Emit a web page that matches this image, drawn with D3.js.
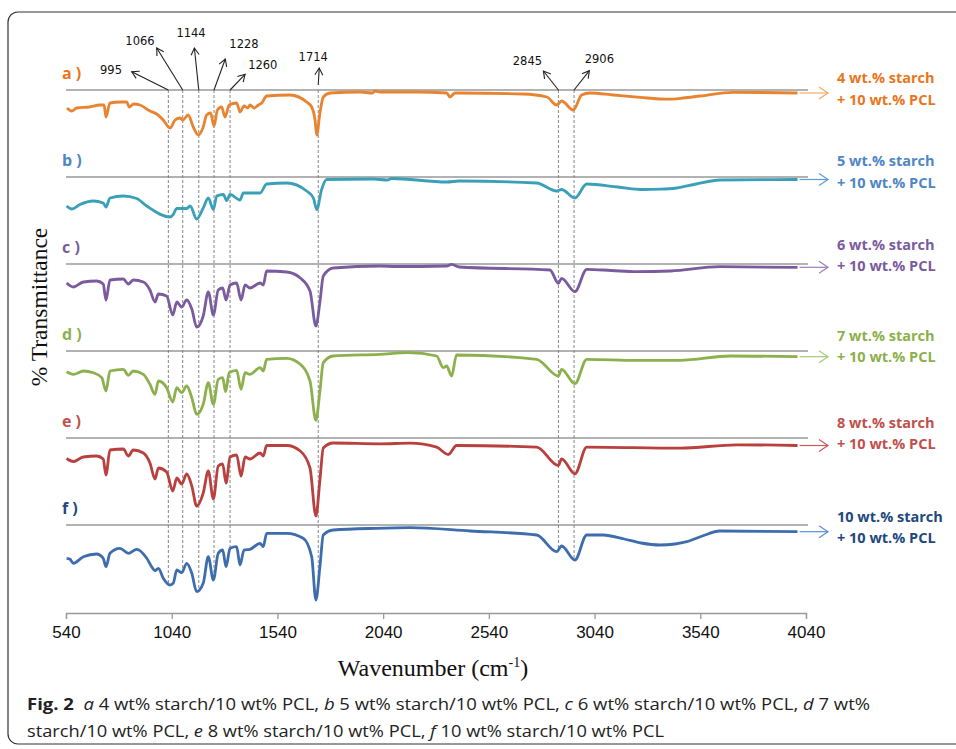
<!DOCTYPE html>
<html>
<head>
<meta charset="utf-8">
<script src="https://cdn.jsdelivr.net/npm/d3@7"></script>
<style>
  body { margin: 0; background: #fff; }
  svg { display: block; }
</style>
</head>
<body>
<script>
// wavenumber ticks on the x axis
const wavenumberTicks = [540, 1040, 1540, 2040, 2540, 3040, 3540, 4040];

// series ids, right-hand labels
const seriesIds = ['a', 'b', 'c', 'd', 'e', 'f'];
const starchLabels = ['4 wt.% starch', '5 wt.% starch', '6 wt.% starch', '7 wt.% starch', '8 wt.% starch', '10 wt.% starch'];
const pclLabel = '+ 10 wt.% PCL';

// marked peaks: label text and where the dashed line sits on the axis
const peakLabels = ['995', '1066', '1144', '1228', '1260', '1714', '2845', '2906'];
const peakMarks = [1024, 1092, 1168, 1240, 1316, 1733, 2869, 2943];

// spectra, [wavenumber, transmittance] (100 = reference line of each trace)
const specA = [[545, 82], [567, 79], [591, 82], [650, 83], [700, 85], [720, 85], [729, 73], [748, 87], [800, 88], [827, 88], [839, 83], [860, 86], [890, 85], [937, 79], [969, 76], [1000, 70], [1032, 62], [1056, 70], [1079, 72], [1092, 70], [1118, 75], [1142, 63], [1166, 55], [1189, 63], [1205, 75], [1224, 77], [1240, 64], [1256, 80], [1276, 83], [1292, 73], [1312, 85], [1347, 87], [1363, 78], [1382, 84], [1400, 82], [1410, 85], [1430, 82], [1450, 85], [1466, 87], [1489, 94], [1599, 95], [1678, 88], [1702, 83], [1718, 70], [1726, 55], [1741, 77], [1757, 93], [1789, 97], [1931, 98], [1990, 97], [2000, 99], [2025, 98], [2200, 98], [2341, 97], [2356, 93], [2380, 97], [2700, 96], [2814, 93], [2861, 85], [2884, 89], [2939, 80], [2979, 95], [3018, 97], [3130, 95], [3255, 92.7], [3381, 90.8], [3460, 92], [3539, 94], [3695, 97.7], [4000, 97]];

const specB = [[543, 71], [567, 68], [606, 72.5], [669, 76], [716, 74], [729, 70], [748, 79], [811, 81], [874, 78.5], [922, 71], [1032, 60], [1047, 62.5], [1064, 68.5], [1111, 68.5], [1127, 71], [1158, 58], [1189, 69], [1213, 79], [1237, 67.5], [1253, 81], [1284, 82.5], [1300, 76.5], [1316, 82.5], [1363, 77], [1379, 84], [1458, 84], [1489, 93], [1584, 94], [1678, 86], [1710, 79], [1726, 67.5], [1749, 87.5], [1773, 97.5], [1993, 98], [2060, 97], [2080, 98.5], [2341, 95], [2400, 96], [2766, 94], [2861, 86], [2884, 87.5], [2947, 79], [3003, 93], [3150, 90], [3270, 87.5], [3350, 87.8], [3428, 89], [3520, 93], [3633, 97], [4000, 97.5]];

const specC = [[543, 81], [575, 77], [622, 82], [685, 83], [716, 80], [729, 64], [748, 84], [811, 85], [835, 80], [858, 84], [906, 82], [937, 74], [961, 62], [977, 70], [1016, 68], [1045, 49], [1064, 62], [1087, 57], [1111, 64], [1135, 55], [1158, 37], [1189, 48], [1213, 72], [1237, 49], [1260, 74], [1281, 76], [1297, 64], [1316, 79], [1347, 81], [1368, 64], [1387, 79], [1410, 76], [1458, 81], [1473, 79], [1489, 93], [1584, 92], [1648, 86], [1694, 73], [1722, 38], [1741, 62], [1757, 88], [1804, 96], [2025, 98], [2100, 97.5], [2340, 98], [2364, 99.7], [2400, 97], [2829, 94], [2869, 80.7], [2884, 85.7], [2947, 72.3], [3003, 94.7], [3120, 93.5], [3239, 92.3], [3400, 93], [3633, 97.3], [4000, 96.7]];

const specD = [[543, 79.3], [575, 76.7], [622, 80], [669, 78.3], [709, 73.3], [729, 60], [748, 80], [811, 81.7], [835, 75.7], [858, 80], [906, 76.7], [937, 66.7], [961, 56.7], [977, 70], [1016, 63.3], [1045, 49], [1064, 63.3], [1087, 58.3], [1111, 65], [1135, 53.3], [1158, 36.7], [1189, 46.7], [1213, 68.3], [1237, 46.7], [1260, 71.7], [1281, 73.3], [1295, 59.3], [1312, 78.3], [1347, 80.7], [1368, 61.7], [1387, 78.3], [1410, 76.7], [1458, 83.3], [1473, 80], [1489, 91.7], [1584, 92.7], [1648, 86.7], [1694, 70], [1722, 30.7], [1741, 60], [1757, 88.3], [1804, 95], [2025, 96.7], [2159, 98.3], [2293, 95], [2324, 83.3], [2340, 85], [2364, 75], [2387, 96], [2766, 91.7], [2869, 75], [2884, 81.7], [2947, 67.3], [3003, 91.7], [3239, 90.7], [3444, 90.7], [3681, 95], [4000, 94.3]];

const specE = [[543, 79.5], [575, 76.5], [622, 81], [685, 82], [716, 79], [729, 63], [748, 88], [811, 89], [835, 82], [858, 88], [906, 85], [937, 75], [961, 59], [977, 70], [1016, 66], [1045, 47], [1064, 60], [1087, 54], [1111, 64], [1135, 52], [1158, 32], [1189, 45], [1213, 67], [1237, 39], [1260, 72], [1281, 74], [1297, 55], [1316, 81], [1347, 83], [1368, 62], [1387, 81], [1410, 79], [1458, 85], [1473, 82], [1489, 92.5], [1584, 92.5], [1648, 87], [1694, 70], [1722, 22], [1741, 58], [1757, 90], [1804, 95], [2025, 94.2], [2167, 94.8], [2293, 90.8], [2348, 83.5], [2387, 92.5], [2766, 90.8], [2869, 72.5], [2884, 79.2], [2947, 64.2], [3003, 90.8], [3444, 89.8], [3712, 93.2], [4000, 92.5]];

const specF = [[543, 66.7], [559, 65.7], [575, 61.7], [622, 68.3], [685, 71], [716, 66.7], [729, 58.3], [748, 71.7], [795, 76.7], [835, 71.7], [874, 75.7], [922, 66.7], [945, 58.3], [961, 54.3], [977, 56.7], [1000, 46.7], [1032, 40], [1047, 41.7], [1064, 55], [1087, 52.3], [1111, 61.7], [1135, 51.7], [1158, 33.3], [1189, 41.7], [1213, 68.3], [1237, 45], [1260, 71.7], [1281, 75], [1297, 58.3], [1316, 76.7], [1347, 78.3], [1363, 60], [1382, 75], [1410, 75.7], [1458, 81.7], [1473, 78.3], [1489, 91.7], [1584, 91.7], [1662, 86.7], [1702, 68.3], [1722, 25], [1741, 58.3], [1757, 90], [1804, 95], [2009, 96.7], [2167, 97.3], [2451, 94], [2766, 90], [2861, 73.3], [2884, 79], [2947, 65], [3003, 90], [3081, 90], [3180, 86], [3260, 82], [3349, 80], [3420, 81], [3476, 83.3], [3550, 89], [3633, 94], [4000, 93.3]];

const spectra = [specA, specB, specC, specD, specE, specF];

// styling
const curveColors = ['#E8832F', '#3AA0B8', '#7A5B9E', '#8CB04C', '#B8403E', '#3E6DAE'];
const labelColors = ['#E8761E', '#4F86C6', '#7A5B9E', '#8CB04C', '#C0504D', '#1F497D'];
const arrowColors = ['#F4A86A', '#5B9BD5', '#9A7FBA', '#A9C97A', '#C65B58', '#5B8FD0'];
const rightLabelDy = [[-12, 10], [-16, 6], [-19, 2], [-15, 6], [-15, 6], [-8, 13]];
// arrow tip and label offsets for the peak notes (relative to dashed line top)
const peakTips = [[-36.6, -18.3], [-26, -42], [-4.4, -42], [11.3, -31], [15, -15.7], [1, -22], [-15, -19], [15.3, -19.3]];
const peakText = [[-57.3, 74], [-42.7, 45], [-7.7, 36.5], [30, 47.5], [32.7, 69], [-5, 61], [-31, 65], [25.3, 62.5]];

const width = 956, height = 749;

const svg = d3.select('body').append('svg')
  .attr('width', width)
  .attr('height', height);

// frame round the figure
svg.append('path')
  .attr('d', 'M 960 12 H 18 A 10 10 0 0 0 8 22 V 734 A 10 10 0 0 0 18 744 H 960')
  .attr('fill', 'none')
  .attr('stroke', '#333')
  .attr('stroke-width', 1.2);

const x = d3.scaleLinear().domain([540, 4040]).range([66, 806]);
const baseY = d3.scalePoint().domain(seriesIds).range([90, 525]);
const depth = d3.scaleLinear().domain([100, 0]).range([0, 100]);

const yOf = (i, t) => baseY(seriesIds[i]) + depth(t);

// x axis
const axisY = 613;
const xAxis = svg.append('g')
  .attr('transform', `translate(0,${axisY})`)
  .call(d3.axisBottom(x).tickValues(wavenumberTicks).tickSize(6).tickPadding(6).tickFormat(d3.format('d')));
xAxis.select('.domain').attr('stroke', '#999').attr('stroke-width', 1.3);
xAxis.selectAll('.tick line').attr('stroke', '#999').attr('stroke-width', 1.3);
xAxis.selectAll('.tick text')
  .attr('fill', '#111')
  .attr('dy', '0.75em')
  .style('font-family', 'Liberation Sans, Arial, sans-serif')
  .style('font-size', '17px');

svg.append('text')
  .attr('x', 433)
  .attr('y', 676)
  .attr('text-anchor', 'middle')
  .style('font-family', 'Liberation Serif, Times New Roman, serif')
  .style('font-size', '24px')
  .attr('fill', '#111')
  .call(t => {
    t.append('tspan').text('Wavenumber (cm');
    t.append('tspan').attr('dy', -9).style('font-size', '14px').text('-1');
    t.append('tspan').attr('dy', 9).text(')');
  });

svg.append('text')
  .attr('transform', 'translate(47,307) rotate(-90)')
  .attr('text-anchor', 'middle')
  .style('font-family', 'Liberation Serif, Times New Roman, serif')
  .style('font-size', '23.5px')
  .attr('fill', '#111')
  .text('% Transmittance');

// grey reference line for each trace
svg.append('g').selectAll('line')
  .data(seriesIds)
  .join('line')
  .attr('x1', 66)
  .attr('x2', 808)
  .attr('y1', d => baseY(d))
  .attr('y2', d => baseY(d))
  .attr('stroke', '#999')
  .attr('stroke-width', 1.3);

// dashed lines through all traces, down to the last one
const fSpec = spectra[5];
const interp = (spec, w) => {
  const i = d3.bisector(d => d[0]).left(spec, w);
  if (i <= 0) return spec[0][1];
  if (i >= spec.length) return spec[spec.length - 1][1];
  const [w0, t0] = spec[i - 1], [w1, t1] = spec[i];
  return t0 + (t1 - t0) * (w - w0) / (w1 - w0);
};
svg.append('g').selectAll('line')
  .data(peakMarks)
  .join('line')
  .attr('x1', d => x(d))
  .attr('x2', d => x(d))
  .attr('y1', baseY('a'))
  .attr('y2', d => yOf(5, interp(fSpec, d)))
  .attr('stroke', '#777')
  .attr('stroke-width', 0.9)
  .attr('stroke-dasharray', '3,2');

// spectra
const line = d3.line()
  .x(d => x(d[0]))
  .curve(d3.curveMonotoneX);

spectra.forEach((spec, i) => {
  svg.append('path')
    .datum(spec)
    .attr('fill', 'none')
    .attr('stroke', curveColors[i])
    .attr('stroke-width', 2.8)
    .attr('stroke-linejoin', 'round')
    .attr('d', line.y(d => yOf(i, d[1])));

  // arrow from the end of the trace to its label
  const last = spec[spec.length - 1];
  const ax0 = x(last[0]) + 2, ax1 = 828, ay = yOf(i, last[1]);
  const ag = svg.append('g').attr('stroke', arrowColors[i]).attr('fill', 'none').attr('stroke-width', 1.2);
  ag.append('line').attr('x1', ax0).attr('x2', ax1).attr('y1', ay).attr('y2', ay);
  ag.append('polyline').attr('points', `${ax1 - 9},${ay - 6} ${ax1},${ay} ${ax1 - 9},${ay + 6}`);

  // left letter
  svg.append('text')
    .attr('x', 62)
    .attr('y', baseY(seriesIds[i]) - 11)
    .attr('fill', labelColors[i])
    .style('font-family', 'Open Sans, sans-serif')
    .style('font-weight', 'bold')
    .style('font-size', '16px')
    .text(seriesIds[i] + ' )');

  // right labels
  const rt = svg.append('text')
    .attr('fill', labelColors[i])
    .style('font-family', 'Open Sans, sans-serif')
    .style('font-weight', 'bold')
    .style('font-size', '14.5px');
  rt.append('tspan').attr('x', 837).attr('y', baseY(seriesIds[i]) + rightLabelDy[i][0] + 5).text(starchLabels[i]);
  rt.append('tspan').attr('x', 837).attr('y', baseY(seriesIds[i]) + rightLabelDy[i][1] + 5).text(pclLabel);
});

// peak notes with arrows
const topY = baseY('a');
peakMarks.forEach((m, i) => {
  const px = x(m);
  const sy = i === 5 ? topY - 5 : topY;
  const tx = px + peakTips[i][0], ty = topY + peakTips[i][1];
  const ang = Math.atan2(ty - sy, tx - px);
  const hl = 8, ha = Math.PI / 6;
  const g = svg.append('g').attr('stroke', '#222').attr('fill', 'none').attr('stroke-width', 1.1);
  g.append('line').attr('x1', px).attr('y1', sy).attr('x2', tx).attr('y2', ty);
  g.append('polyline').attr('points', [
    [tx - hl * Math.cos(ang - ha), ty - hl * Math.sin(ang - ha)],
    [tx, ty],
    [tx - hl * Math.cos(ang + ha), ty - hl * Math.sin(ang + ha)]
  ].map(p => p.join(',')).join(' '));
  svg.append('text')
    .attr('x', px + peakText[i][0])
    .attr('y', peakText[i][1])
    .attr('text-anchor', 'middle')
    .attr('fill', '#111')
    .style('font-family', 'DejaVu Sans, Verdana, sans-serif')
    .style('font-size', '11.5px')
    .text(peakLabels[i]);
});

// caption
const capLines = [
  [['Fig. 2', 'b'], ['  ', ''], ['a', 'i'], [' 4 wt% starch/10 wt% PCL, ', ''], ['b', 'i'], [' 5 wt% starch/10 wt% PCL, ', ''], ['c', 'i'], [' 6 wt% starch/10 wt% PCL, ', ''], ['d', 'i'], [' 7 wt%', '']],
  [['starch/10 wt% PCL, ', ''], ['e', 'i'], [' 8 wt% starch/10 wt% PCL, ', ''], ['f', 'i'], [' 10 wt% starch/10 wt% PCL', '']]
];
const capY = [710, 737];
const capLen = [843, 637];
capLines.forEach((parts, li) => {
  const t = svg.append('text')
    .attr('x', 27)
    .attr('y', capY[li])
    .attr('fill', '#222')
    .attr('xml:space', 'preserve')
    .style('white-space', 'pre')
    .style('font-family', 'Open Sans, sans-serif')
    .style('font-size', '16px')
    .attr('textLength', capLen[li])
    .attr('lengthAdjust', 'spacingAndGlyphs');
  parts.forEach(([s, st]) => {
    t.append('tspan')
      .style('font-weight', st === 'b' ? 'bold' : 'normal')
      .style('font-style', st === 'i' ? 'italic' : 'normal')
      .text(s);
  });
});
</script>
</body>
</html>
